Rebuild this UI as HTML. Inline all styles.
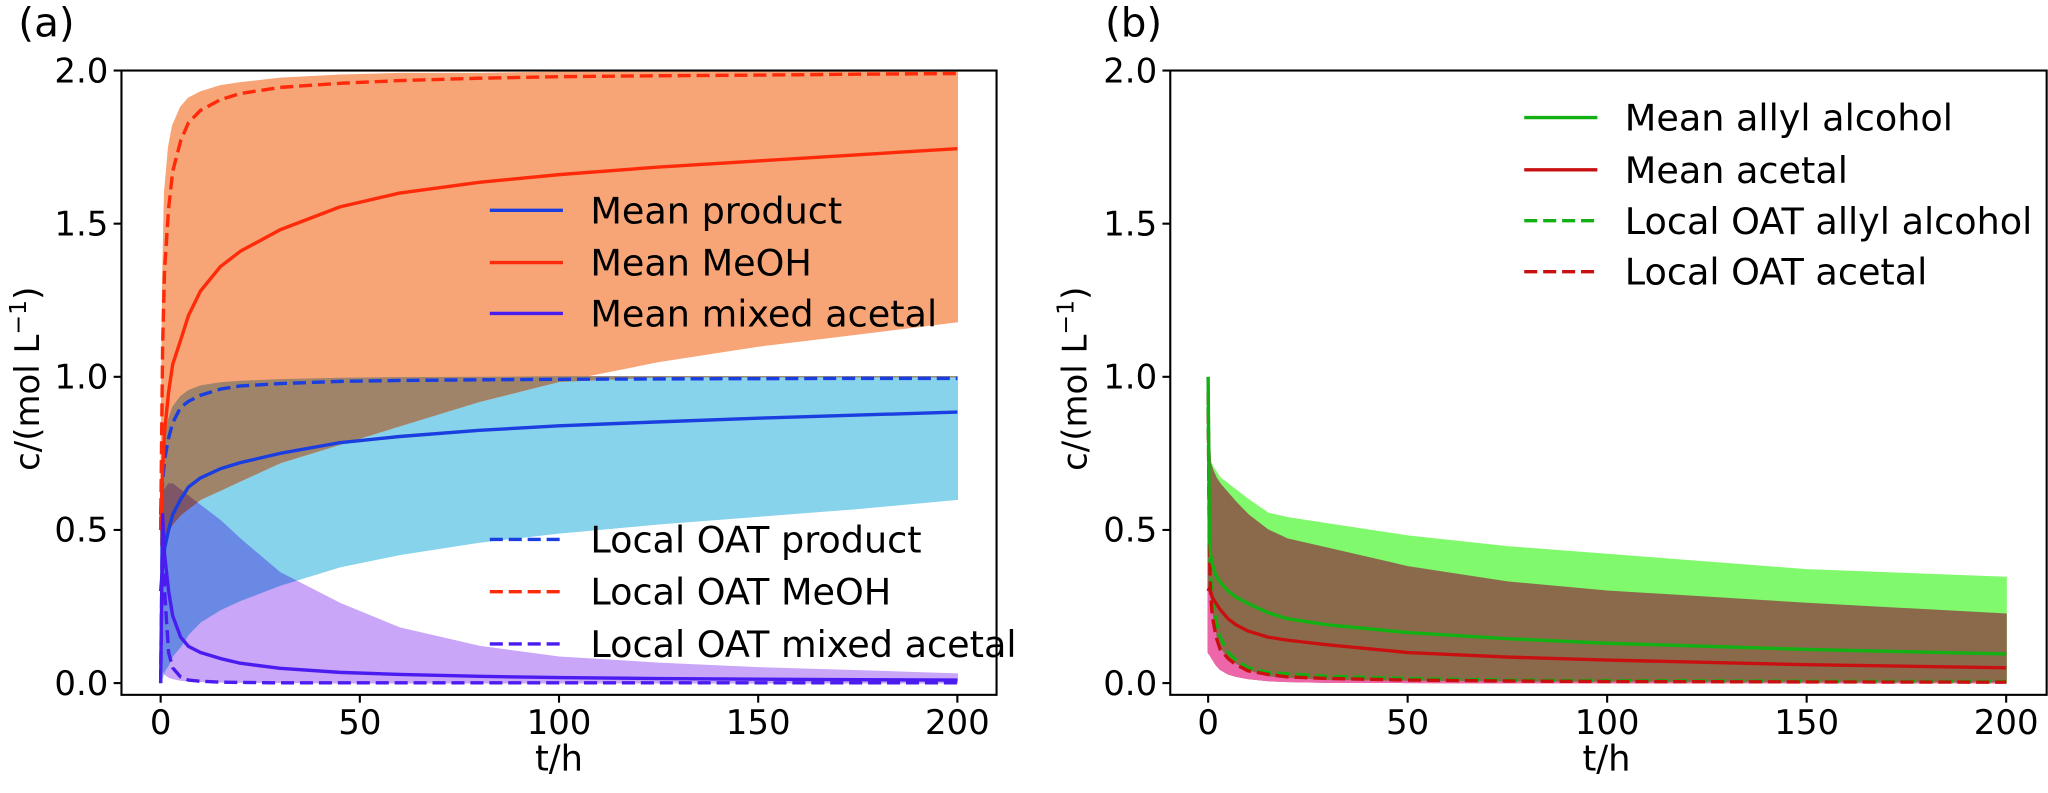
<!DOCTYPE html>
<html><head><meta charset="utf-8">
<style>
html,body{margin:0;padding:0;background:#fff;}
svg text{font-family:"DejaVu Sans","Liberation Sans",sans-serif;fill:#000;}
</style></head>
<body>
<svg id="fig" width="2048" height="788" viewBox="0 0 2048 788" xmlns="http://www.w3.org/2000/svg">
<g transform="scale(1.3061)">
<g id="pa"></g>
<g id="pb"></g>
</g>
</svg>
<script>
// ---------- Data: panel (a) ----------
const tA = [0, 0.5, 1, 2, 3, 5, 7, 10, 15, 20, 30, 45, 60, 80, 100, 125, 150, 175, 200];
const meohUpper = [0.5, 1.3, 1.6, 1.75, 1.82, 1.88, 1.91, 1.93, 1.95, 1.96, 1.975, 1.985, 1.99, 1.99, 1.995, 1.995, 1.995, 1.995, 1.995];
const meohLower = [0.45, 0.45, 0.47, 0.5, 0.52, 0.55, 0.57, 0.6, 0.63, 0.66, 0.72, 0.78, 0.84, 0.92, 0.985, 1.05, 1.1, 1.14, 1.18];
const meohMean = [0.5, 0.7, 0.82, 0.95, 1.04, 1.12, 1.2, 1.28, 1.36, 1.41, 1.48, 1.555, 1.6, 1.635, 1.66, 1.685, 1.705, 1.725, 1.745];
const meohOAT = [0.5, 1.1, 1.35, 1.55, 1.67, 1.77, 1.83, 1.87, 1.905, 1.925, 1.945, 1.958, 1.967, 1.975, 1.98, 1.983, 1.985, 1.988, 1.99];
const prodUpper = [0.55, 0.7, 0.78, 0.86, 0.9, 0.935, 0.955, 0.97, 0.98, 0.985, 0.99, 0.995, 0.997, 0.998, 1, 1, 1, 1, 1];
const prodLower = [0, 0.02, 0.04, 0.06, 0.09, 0.12, 0.16, 0.2, 0.24, 0.27, 0.32, 0.38, 0.42, 0.46, 0.49, 0.52, 0.545, 0.57, 0.6];
const prodMean = [0.3, 0.38, 0.44, 0.5, 0.55, 0.6, 0.64, 0.67, 0.7, 0.72, 0.75, 0.785, 0.805, 0.825, 0.84, 0.853, 0.865, 0.875, 0.885];
const prodOAT = [0.55, 0.66, 0.73, 0.8, 0.85, 0.9, 0.92, 0.94, 0.96, 0.97, 0.978, 0.985, 0.988, 0.99, 0.992, 0.993, 0.994, 0.995, 0.995];
const acetUpper = [0, 0.6, 0.63, 0.65, 0.65, 0.63, 0.61, 0.58, 0.53, 0.47, 0.36, 0.26, 0.18, 0.12, 0.085, 0.065, 0.05, 0.04, 0.03];
const acetLower = [0, 0.05, 0.03, 0.02, 0.015, 0.01, 0.007, 0.005, 0.004, 0.003, 0.002, 0.001, 0.001, 0.001, 0.001, 0.001, 0.001, 0.001, 0.001];
const acetMean = [0, 0.55, 0.42, 0.3, 0.22, 0.15, 0.12, 0.1, 0.08, 0.065, 0.048, 0.035, 0.028, 0.022, 0.018, 0.015, 0.013, 0.011, 0.01];
const acetOAT = [0, 0.55, 0.3, 0.1, 0.05, 0.02, 0.01, 0.006, 0.003, 0.002, 0.001, 0.001, 0.001, 0.001, 0.001, 0.001, 0.001, 0.001, 0.001];
// ---------- Data: panel (b) ----------
const tB = [0, 0.3, 0.6, 1, 2, 3, 5, 7, 10, 15, 20, 30, 50, 75, 100, 150, 200];
const allylUpper = [1.0, 0.8, 0.72, 0.71, 0.69, 0.67, 0.65, 0.63, 0.6, 0.555, 0.54, 0.52, 0.48, 0.445, 0.42, 0.37, 0.345];
const allylLower = [0.3, 0.3, 0.28, 0.22, 0.15, 0.11, 0.08, 0.06, 0.04, 0.02, 0.015, 0.008, 0.005, 0.003, 0.002, 0.001, 0.001];
const acetalUpper = [0.95, 0.8, 0.72, 0.7, 0.67, 0.65, 0.62, 0.59, 0.55, 0.5, 0.47, 0.44, 0.38, 0.33, 0.3, 0.26, 0.225];
const acetalLower = [0.1, 0.095, 0.09, 0.08, 0.06, 0.045, 0.03, 0.022, 0.015, 0.008, 0.005, 0.003, 0.002, 0.001, 0.001, 0.001, 0.001];
const allylMean = [1.0, 0.5, 0.42, 0.39, 0.35, 0.33, 0.3, 0.28, 0.26, 0.23, 0.21, 0.19, 0.165, 0.145, 0.13, 0.11, 0.095];
const acetalMean = [0.3, 0.31, 0.3, 0.28, 0.26, 0.24, 0.21, 0.19, 0.17, 0.15, 0.14, 0.125, 0.1, 0.085, 0.075, 0.06, 0.05];
const allylOAT = [0.9, 0.5, 0.35, 0.28, 0.2, 0.15, 0.1, 0.075, 0.05, 0.035, 0.03, 0.022, 0.015, 0.01, 0.008, 0.006, 0.005];
const acetalOAT = [0.95, 0.45, 0.3, 0.22, 0.15, 0.11, 0.08, 0.06, 0.04, 0.028, 0.02, 0.015, 0.01, 0.007, 0.005, 0.004, 0.003];
const xTicks = [0, 50, 100, 150, 200];
const yTicks = [0, 0.5, 1.0, 1.5, 2.0];
const yTickLabels = ["0.0", "0.5", "1.0", "1.5", "2.0"];

const NS = "http://www.w3.org/2000/svg";
function mk(parent, tag, attrs) {
  const e = document.createElementNS(NS, tag);
  for (const k in attrs) e.setAttribute(k, attrs[k]);
  parent.appendChild(e);
  return e;
}
function makeAxes(g, x0px, x200px, frameL, frameR) {
  const yTop = 54, yZero = 523;
  const X = v => x0px + (x200px - x0px) * v / 200;
  const Y = v => yZero - (yZero - yTop) * v / 2;
  return {X, Y, frameL, frameR, frameT: 54, frameB: 532};
}
function linePts(ax, t, v) { return t.map((ti, i) => ax.X(ti).toFixed(1) + "," + ax.Y(v[i]).toFixed(1)).join(" "); }
function bandPts(ax, t, up, lo) {
  const a = t.map((ti, i) => ax.X(ti).toFixed(1) + "," + ax.Y(up[i]).toFixed(1));
  const b = t.map((ti, i) => ax.X(ti).toFixed(1) + "," + ax.Y(lo[i]).toFixed(1)).reverse();
  return a.concat(b).join(" ");
}
function drawFrame(g, ax, xLabelX) {
  const r = mk(g, "rect", {x: ax.frameL, y: ax.frameT, width: ax.frameR - ax.frameL, height: ax.frameB - ax.frameT, fill: "none", stroke: "#000", "stroke-width": 1.6});
  
  
  xTicks.forEach(v => {
    const x = ax.X(v);
    const tk = mk(g, "line", {x1: x, x2: x, y1: ax.frameB, y2: ax.frameB + 6, stroke: "#000", "stroke-width": 1.6});
    
    
    const tl = mk(g, "text", {x: x, y: ax.frameB + 30, "font-size": 26, "text-anchor": "middle"});
    tl.textContent = v;
    
    
  });
  yTicks.forEach((v, i) => {
    const y = ax.Y(v);
    const tk = mk(g, "line", {x1: ax.frameL - 6, x2: ax.frameL, y1: y, y2: y, stroke: "#000", "stroke-width": 1.6});
    
    
    const tl = mk(g, "text", {x: ax.frameL - 10, y: y + 9, "font-size": 26, "text-anchor": "end"});
    tl.textContent = yTickLabels[i];
    
    
  });
  const xl = mk(g, "text", {x: xLabelX, y: 590, "font-size": 27, "text-anchor": "middle"});
  xl.textContent = "t/h";
  
  
}
function fill(g, ax, t, up, lo, color, name, blend) {
  const p = mk(g, "polygon", {points: bandPts(ax, t, up, lo), fill: color, stroke: color, "stroke-width": 1});
  if (blend) p.style.mixBlendMode = "multiply";
  
  
}
function overlap(g, ax, t, up1, lo1, up2, lo2, color, name) {
  const up = t.map((_, i) => Math.min(up1[i], up2[i]));
  const lo = t.map((_, i) => Math.min(Math.max(lo1[i], lo2[i]), up[i]));
  fill(g, ax, t, up, lo, color, name, false);
}
function line(g, ax, t, v, color, dashed, name) {
  const attrs = {points: linePts(ax, t, v), fill: "none", stroke: color, "stroke-width": 2.6, "stroke-linejoin": "round"};
  if (dashed) attrs["stroke-dasharray"] = "10,4.5";
  const p = mk(g, "polyline", attrs);
  
  
}
function legendEntry(g, x, y, color, dashed, label, name) {
  const le = mk(g, "g", {});
  
  
  const a = {x1: x, x2: x + 56, y1: y, y2: y, stroke: color, "stroke-width": 2.6};
  if (dashed) a["stroke-dasharray"] = "10,4.5";
  mk(le, "line", a);
  const tx = mk(le, "text", {x: x + 77, y: y + 10, "font-size": 28});
  tx.textContent = label;
}
function yTitle(g, x) {
  const t = mk(g, "text", {x: 0, y: 0, "font-size": 26, "text-anchor": "middle", transform: "translate(" + x + ",290) rotate(-90)"});
  t.innerHTML = 'c/(mol L<tspan dy="-10" font-size="18">\u22121</tspan><tspan dy="10">)</tspan>';
  
  
}
function panelLabel(g, x, s) {
  const t = mk(g, "text", {x: x, y: 28, "font-size": 31});
  t.textContent = s;
  
  
}

// ---------- Panel a ----------
const ga = document.getElementById("pa");
const axA = makeAxes(ga, 123, 733, 93, 763);
panelLabel(ga, 14, "(a)");
yTitle(ga, 30);
fill(ga, axA, tA, prodUpper, prodLower, "#87d3ec", "product-band", false);
fill(ga, axA, tA, meohUpper, meohLower, "#f7a577", "meoh-band", false);
overlap(ga, axA, tA, prodUpper, prodLower, meohUpper, meohLower, "#a0846a", "product-meoh-overlap");
fill(ga, axA, tA, acetUpper, acetLower, "#c9a6f8", "mixed-acetal-band", true);
line(ga, axA, tA, meohOAT, "#ff2a0a", true, "local-oat-meoh-line");
line(ga, axA, tA, prodOAT, "#1b3ee0", true, "local-oat-product-line");
line(ga, axA, tA, acetOAT, "#4a1cf0", true, "local-oat-mixed-acetal-line");
line(ga, axA, tA, meohMean, "#ff2a0a", false, "mean-meoh-line");
line(ga, axA, tA, prodMean, "#1b3ee0", false, "mean-product-line");
line(ga, axA, tA, acetMean, "#4a1cf0", false, "mean-mixed-acetal-line");
drawFrame(ga, axA, 428);
legendEntry(ga, 375, 161, "#1b3ee0", false, "Mean product", "legend-mean-product");
legendEntry(ga, 375, 201, "#ff2a0a", false, "Mean MeOH", "legend-mean-meoh");
legendEntry(ga, 375, 240, "#4a1cf0", false, "Mean mixed acetal", "legend-mean-mixed-acetal");
legendEntry(ga, 375, 413, "#1b3ee0", true, "Local OAT product", "legend-oat-product");
legendEntry(ga, 375, 453, "#ff2a0a", true, "Local OAT MeOH", "legend-oat-meoh");
legendEntry(ga, 375, 493, "#4a1cf0", true, "Local OAT mixed acetal", "legend-oat-mixed-acetal");

// ---------- Panel b ----------
const gb = document.getElementById("pb");
const axB = makeAxes(gb, 925, 1536, 896, 1567);
panelLabel(gb, 846, "(b)");
yTitle(gb, 832);
fill(gb, axB, tB, allylUpper, allylLower, "#80f96c", "allyl-alcohol-band", false);
fill(gb, axB, tB, acetalUpper, acetalLower, "#8b6a4b", "acetal-band", false);
fill(gb, axB, tB, allylLower, acetalLower, "#ee66aa", "acetal-only-band", false);
line(gb, axB, tB, allylOAT, "#12b012", true, "local-oat-allyl-alcohol-line");
line(gb, axB, tB, acetalOAT, "#c81010", true, "local-oat-acetal-line");
line(gb, axB, tB, allylMean, "#12b012", false, "mean-allyl-alcohol-line");
line(gb, axB, tB, acetalMean, "#c81010", false, "mean-acetal-line");
drawFrame(gb, axB, 1230);
legendEntry(gb, 1167, 90, "#12b012", false, "Mean allyl alcohol", "legend-mean-allyl-alcohol");
legendEntry(gb, 1167, 130, "#c81010", false, "Mean acetal", "legend-mean-acetal");
legendEntry(gb, 1167, 169, "#12b012", true, "Local OAT allyl alcohol", "legend-oat-allyl-alcohol");
legendEntry(gb, 1167, 208, "#c81010", true, "Local OAT acetal", "legend-oat-acetal");
</script>
</body></html>
